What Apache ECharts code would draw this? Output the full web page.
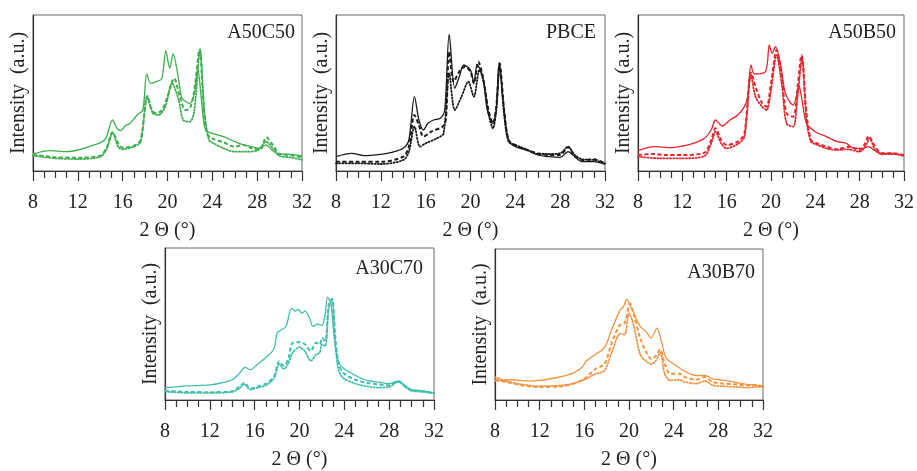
<!DOCTYPE html>
<html><head><meta charset="utf-8">
<script src="https://cdn.jsdelivr.net/npm/echarts@6/dist/echarts.min.js"></script>
<style>html,body{margin:0;padding:0;background:#fff}#c{width:917px;height:471px}</style>
</head><body><div id="c"></div>
<script>
// Panel titles and colours
const panelNames = ['A50C50', 'PBCE', 'A50B50', 'A30C70', 'A30B70'];
const xTicks = [8, 12, 16, 20, 24, 28, 32];

// [2θ, intensity (a.u.)]
const a50c50Solid = [[8,51],[9.5,61],[11,58],[12,63],[13,73],[14,85],[14.5,98],[15.1,153],[15.5,128],[15.8,121],[16.3,138],[16.6,141],[17.3,168],[17.8,183],[18.15,291],[18.5,263],[19,268],[19.5,278],[19.85,361],[20.2,308],[20.5,351],[21,273],[21.3,218],[22,203],[22.4,233],[22.7,308],[23.0,223],[23.3,133],[23.6,118],[24,113],[25,103],[26,88],[26.8,78],[27.5,73],[28.2,68],[28.8,78],[29.3,63],[30,51],[31,50],[32,45]];
const a50c50Dashed = [[8,48],[9,45],[10,41],[12,40],[14,46],[14.6,73],[15.1,116],[15.6,83],[16,70],[17,76],[17.6,93],[18.2,225],[18.6,183],[19,173],[19.5,183],[20,223],[20.6,278],[21.1,223],[21.6,183],[22,188],[22.4,243],[22.85,363],[23.2,213],[23.5,113],[24,98],[25,86],[26,73],[26.8,78],[27.5,68],[28.3,65],[28.8,101],[29.5,73],[30,51],[31,48],[32,40]];
const a50c50Dotted = [[8,46],[10,38],[12,36],[14,43],[14.6,68],[15.1,115],[15.6,73],[16,65],[17,73],[17.6,88],[18.2,221],[18.7,173],[19.2,168],[19.8,193],[20.4,263],[21,213],[21.4,153],[22,148],[22.4,183],[22.9,365],[23.3,173],[23.7,93],[24,85],[25,68],[26,58],[27,58],[28,61],[28.8,88],[29.5,63],[30,45],[31,41],[32,33]];

const pbceSolid = [[8,43],[9.4,53],[10.5,46],[12,50],[13,56],[14,68],[14.5,93],[15.0,223],[15.4,153],[15.8,123],[16.2,143],[16.7,153],[17.3,158],[17.7,183],[18.1,410],[18.6,248],[19.0,283],[19.4,318],[20.0,303],[20.3,263],[20.6,318],[21.1,283],[21.5,183],[22,143],[22.3,183],[22.55,323],[23,183],[23.4,93],[24,73],[25,63],[26,48],[27,43],[28,41],[28.7,58],[29.3,43],[30,28],[31,28],[32,20]];
const pbceDashed = [[8,28],[10,28],[12,28],[14,43],[14.5,73],[15.0,168],[15.4,138],[15.8,103],[16.5,118],[17.5,133],[17.8,153],[18.1,358],[18.5,268],[19.0,298],[19.5,313],[20.0,298],[20.3,263],[20.7,328],[21.1,283],[21.6,183],[22,143],[22.3,193],[22.6,323],[23,183],[23.4,93],[24,78],[25,63],[26,53],[27,48],[28,48],[28.7,71],[29.3,45],[30,33],[31,35],[32,23]];
const pbceDotted = [[8,23],[10,23],[12,21],[14,33],[14.5,58],[15.0,133],[15.5,73],[16,83],[17,98],[17.6,113],[18.1,293],[18.6,183],[19.2,223],[19.8,268],[20.3,223],[20.8,303],[21.2,263],[21.6,173],[22,128],[22.3,183],[22.6,313],[23,168],[23.4,88],[24,78],[25,65],[26,51],[27,51],[28,53],[28.7,73],[29.3,48],[30,35],[31,33],[32,23]];

const a50b50Solid = [[8,61],[9.5,73],[11,70],[12,75],[13,83],[14,98],[14.6,123],[15.0,153],[15.6,135],[16.3,153],[17,168],[17.6,193],[17.9,223],[18.2,318],[18.5,291],[19.5,298],[19.85,378],[20.1,353],[20.4,373],[20.9,313],[21.3,233],[22,198],[22.3,223],[22.5,258],[22.8,213],[23.2,143],[24,118],[25,103],[26,88],[26.8,83],[27.5,68],[28.3,68],[28.8,73],[29.3,63],[30,53],[31,53],[32,45]];
const a50b50Dashed = [[8,48],[9.5,51],[10.5,48],[12,48],[14,55],[14.6,93],[15.0,128],[15.5,93],[16,78],[17,88],[17.6,113],[18.2,295],[18.6,253],[19.2,203],[19.6,193],[20.0,263],[20.5,363],[21.0,273],[21.4,173],[22,163],[22.4,253],[22.75,348],[23.2,173],[23.6,93],[24,85],[25,73],[26,65],[27,73],[28,63],[28.5,83],[28.8,105],[29.4,73],[30,53],[31,53],[32,48]];
const a50b50Dotted = [[8,43],[10,38],[12,38],[14,45],[14.6,83],[15.0,118],[15.5,83],[16,68],[17,81],[17.6,103],[18.2,288],[18.6,223],[19.2,193],[19.6,183],[20.0,243],[20.5,348],[21.0,253],[21.4,143],[22,133],[22.4,223],[22.8,338],[23.2,153],[23.6,88],[24,81],[25,68],[26,63],[27,65],[28,58],[28.5,73],[28.9,98],[29.4,63],[30,50],[31,51],[32,45]];

const a30c70Solid = [[8,37],[10,43],[12,46],[13,52],[14,62],[14.6,80],[15.15,100],[15.6,92],[16.2,108],[17,130],[17.7,155],[18.0,205],[18.4,215],[18.8,225],[19.3,280],[19.6,272],[19.9,277],[20.2,265],[20.5,272],[20.9,250],[21.2,225],[21.6,232],[22,228],[22.3,265],[22.5,315],[22.8,295],[23.1,190],[23.5,115],[24,95],[25,75],[26,60],[27,55],[28,50],[28.8,58],[29.5,42],[30,32],[31,28],[32,22]];
const a30c70Dashed = [[8,28],[10,25],[12,24],[14,27],[14.6,40],[15.1,52],[15.6,35],[16.3,42],[17,50],[17.7,70],[18.2,118],[18.6,105],[19.0,125],[19.4,175],[20.0,177],[20.5,170],[21.0,150],[21.5,175],[21.8,170],[22.0,190],[22.3,180],[22.6,290],[22.9,310],[23.2,190],[23.5,110],[24,80],[25,62],[26,52],[27,48],[28,45],[28.8,58],[29.5,40],[30,30],[31,27],[32,20]];
const a30c70Dotted = [[8,26],[10,22],[12,22],[14,25],[14.6,35],[15.1,48],[15.6,32],[16.3,38],[17,45],[17.7,65],[18.2,110],[18.6,95],[19.0,112],[19.4,145],[20.0,162],[20.5,148],[21.0,120],[21.5,140],[21.8,145],[22.0,170],[22.3,165],[22.6,280],[22.9,305],[23.2,170],[23.5,90],[24,65],[25,50],[26,42],[27,38],[28,40],[28.8,55],[29.5,38],[30,28],[31,25],[32,20]];

const a30b70Solid = [[8,58],[9.5,62],[11,58],[12,60],[13,65],[14,72],[15,82],[15.8,100],[16.2,120],[17,140],[17.8,160],[18.5,220],[19.2,275],[19.5,285],[19.8,308],[20.1,290],[20.5,260],[21,225],[21.5,210],[22,190],[22.5,220],[22.9,180],[23.3,130],[24,110],[25,88],[26,75],[26.8,75],[27.5,65],[28.5,60],[29.5,55],[30.5,48],[31.5,45],[32,42]];
const a30b70Dashed = [[8,62],[9,55],[10,48],[11,42],[12,40],[14,42],[15,50],[16,65],[17,95],[17.8,110],[18.5,180],[19.2,230],[19.6,235],[20.1,295],[20.4,265],[21,190],[21.5,150],[22,125],[22.4,135],[22.8,155],[23.2,110],[23.7,80],[24.5,80],[25,70],[26,62],[26.8,70],[27.5,55],[28.5,50],[29.5,48],[30.5,45],[31.5,45],[32,42]];
const a30b70Dotted = [[8,70],[9,58],[10,50],[11,45],[12,42],[14,45],[15,50],[16,62],[17,80],[17.8,90],[18.5,150],[19.2,202],[19.6,200],[20.0,265],[20.4,230],[21,140],[21.5,120],[22,110],[22.4,120],[22.8,145],[23.2,80],[23.7,60],[24.5,62],[25,55],[26,50],[26.8,58],[27.5,45],[28.5,42],[29.5,40],[30.5,38],[31.5,40],[32,40]];

const panelData = [
  [a50c50Solid, a50c50Dashed, a50c50Dotted],
  [pbceSolid, pbceDashed, pbceDotted],
  [a50b50Solid, a50b50Dashed, a50b50Dotted],
  [a30c70Solid, a30c70Dashed, a30c70Dotted],
  [a30b70Solid, a30b70Dashed, a30b70Dotted]
];
const panelColors = ['#3cae4c', '#1a1a1a', '#e3262e', '#3fbfae', '#f39443'];
const yMax = [468, 468, 468, 465, 462];

// layout (pixels)
const grids = [
  {left: 33, top: 15, width: 269, height: 156},
  {left: 336, top: 15, width: 269, height: 156},
  {left: 638, top: 15, width: 268, height: 156},
  {left: 165, top: 248, width: 269, height: 155},
  {left: 495, top: 249, width: 268, height: 154}
];
const titlePos = [
  {right: 622, top: 23}, {right: 321, top: 23}, {right: 21, top: 23},
  {right: 494, top: 259}, {right: 162, top: 263}
];
const FONT = 'Liberation Serif';

const option = {
  backgroundColor: '#fff',
  animation: false,
  title: panelNames.map((n, i) => ({
    text: n, right: titlePos[i].right, top: titlePos[i].top, padding: 0,
    textStyle: {fontFamily: FONT, fontSize: 20, fontWeight: 'normal', color: '#222'}
  })),
  grid: grids.map(g => Object.assign({show: true, borderColor: '#666', borderWidth: 1, backgroundColor: 'transparent'}, g)),
  xAxis: grids.map((g, i) => ({
    type: 'value', gridIndex: i, min: 8, max: 32, interval: 4,
    name: '2 Θ (°)', nameLocation: 'middle', nameGap: 50,
    nameTextStyle: {fontFamily: FONT, fontSize: 20, color: '#222'},
    axisLine: {show: true, onZero: false, lineStyle: {color: '#333', width: 1.2}},
    axisTick: {show: true, inside: false, length: 10, lineStyle: {color: '#333', width: 1.2}},
    minorTick: {show: true, splitNumber: 4, length: 7, lineStyle: {color: '#333', width: 1.2}},
    axisLabel: {fontFamily: FONT, fontSize: 20, color: '#222', margin: 22,
      formatter: v => xTicks.includes(v) ? String(v) : ''},
    splitLine: {show: false}
  })),
  yAxis: grids.map((g, i) => ({
    type: 'value', gridIndex: i, min: 0, max: yMax[i],
    name: 'Intensity  (a.u.)', nameLocation: 'middle', nameGap: 4,
    nameTextStyle: {fontFamily: FONT, fontSize: 20, color: '#222'},
    axisLine: {show: true, onZero: false, lineStyle: {color: '#333', width: 1.2}},
    axisTick: {show: false}, axisLabel: {show: false}, splitLine: {show: false}
  })),
  series: []
};

const styles = [
  {type: 'solid', width: 1.3},
  {type: [4, 2.5], width: 2},
  {type: [1.2, 2], width: 1.8, cap: 'round'}
];
panelData.forEach((sets, i) => {
  sets.forEach((d, k) => {
    option.series.push({
      type: 'line', xAxisIndex: i, yAxisIndex: i, data: d,
      showSymbol: false, smooth: 0.3, z: 3 - k,
      lineStyle: Object.assign({color: panelColors[i]}, styles[k])
    });
  });
});

const chart = echarts.init(document.getElementById('c'), null, {renderer: 'canvas'});
chart.setOption(option);
</script></body></html>
